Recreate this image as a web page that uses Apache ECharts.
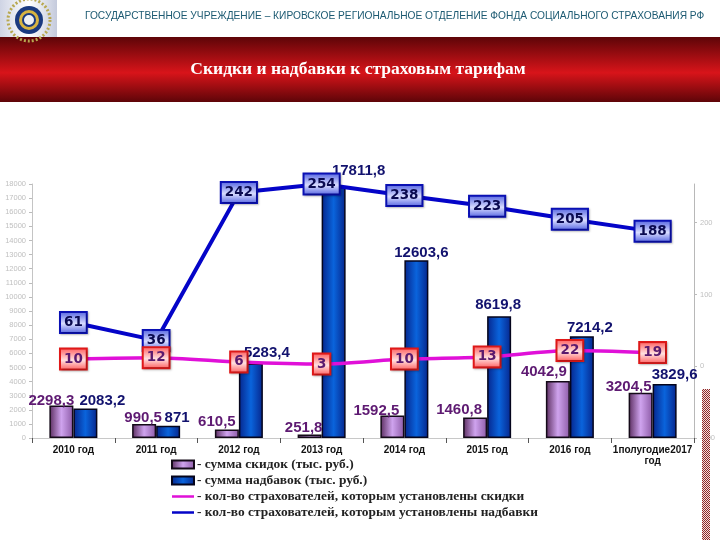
<!DOCTYPE html>
<html><head><meta charset="utf-8">
<style>html,body{margin:0;padding:0;background:#fff}#c{width:720px;height:540px}</style>
<script src="https://cdn.jsdelivr.net/npm/echarts@6/dist/echarts.min.js"></script>
</head><body><div id="c"></div>
<script>
const categories = ['2010 год','2011 год','2012 год','2013 год','2014 год','2015 год','2016 год','1полугодие2017\nгод'];
const discountSum = [2298.3, 990.5, 610.5, 251.8, 1592.5, 1460.8, 4042.9, 3204.5];
const surchargeSum = [2083.2, 871, 5283.4, 17811.8, 12603.6, 8619.8, 7214.2, 3829.6];
const discountCount = [10, 12, 6, 3, 10, 13, 22, 19];
const surchargeCount = [61, 36, 242, 254, 238, 223, 205, 188];
const rightTicks = [-100, 0, 100, 200];
const discountLabelShift = [[-10,3],[-1,1],[-10,0],[-6,1],[-16,3],[-16,0],[-14,-2],[-12,2]];
const surchargeLabelShift = [[17,1],[9,1],[16,-2],[25,-7],[5,1],[-1,-3],[8,0],[10,-1]];

const v = (a,b,c)=>({type:'linear',x:0,y:0,x2:0,y2:1,colorStops:[{offset:0,color:a},{offset:.55,color:b},{offset:1,color:c}]});
const h = (a,b,c)=>({type:'linear',x:0,y:0,x2:1,y2:0,colorStops:[{offset:0,color:a},{offset:.5,color:b},{offset:1,color:c}]});
const comma = p => String(p.value).replace('.',',');
const barLabel = shift => (val,i) => ({value:val,label:{offset:shift[i]}});
const lineIcon = 'path://M0,0L0.01,0Z M0,34H100V66H0Z M0,100L0.01,100Z';

const cv = document.createElement('canvas'); cv.width=2; cv.height=2;
const cx = cv.getContext('2d'); cx.fillStyle='#f4dede'; cx.fillRect(0,0,2,2); cx.fillStyle='#8e2a2a'; cx.fillRect(0,0,1,1); cx.fillRect(1,1,1,1);

const names = ['- сумма скидок (тыс. руб.)','- сумма надбавок (тыс. руб.)','- кол-во страхователей, которым установлены скидки','- кол-во страхователей, которым установлены надбавки'];
const chart = echarts.init(document.getElementById('c'),null,{renderer:'canvas'});
const boxLabel = (top,mid,bottom,border,text)=>({show:true,position:'inside',formatter:'{c}',fontFamily:'DejaVu Sans',fontWeight:'bold',fontSize:13.5,color:text,
  backgroundColor:v(top,mid,bottom),borderColor:border,borderWidth:2,padding:[3,3,2,3],shadowColor:'rgba(0,0,0,.25)',shadowBlur:2,shadowOffsetX:1,shadowOffsetY:1});
chart.setOption({
  animation:false,
  backgroundColor:'#fff',
  grid:{left:32,right:26,top:184,bottom:102,containLabel:false},
  legend:{orient:'vertical',left:171,top:458,padding:0,itemWidth:22,itemHeight:8,itemGap:3,symbolKeepAspect:false,
    data:[{name:names[0],icon:'rect'},{name:names[1],icon:'rect'},{name:names[2],icon:lineIcon},{name:names[3],icon:lineIcon}],
    textStyle:{fontFamily:'Liberation Serif',fontWeight:'bold',fontSize:13.4,color:'#222',padding:[0,0,0,-2]}},
  xAxis:{type:'category',data:categories,
    axisLine:{lineStyle:{color:'#c8c8c8'}},axisTick:{show:true,alignWithLabel:false,length:5,inside:false,lineStyle:{color:'#555'}},
    axisLabel:{interval:0,color:'#111',fontFamily:'Liberation Sans',fontWeight:'bold',fontSize:10,margin:7,lineHeight:11}},
  yAxis:[
    {type:'value',min:0,max:18000,interval:1000,splitLine:{show:false},
     axisLine:{show:true,lineStyle:{color:'#c4c4c4'}},axisTick:{show:true,length:3,lineStyle:{color:'#bbb'}},
     axisLabel:{color:'#c0c0c0',fontFamily:'Liberation Sans',fontSize:7.5,margin:6,formatter:val=>String(val)}},
    {type:'value',min:-100,max:254,position:'right',splitLine:{show:false},
     axisLine:{show:true,lineStyle:{color:'#b8b8b8'}},
     axisTick:{show:true,length:3,customValues:rightTicks,lineStyle:{color:'#bbb'}},
     axisLabel:{color:'#c0c0c0',fontFamily:'Liberation Sans',fontSize:7.5,margin:6,customValues:rightTicks,formatter:val=>String(val)}}
  ],
  series:[
    {name:names[0],type:'bar',barWidth:24,barGap:'0%',yAxisIndex:0,z:2,
     data:discountSum.map(barLabel(discountLabelShift)),
     itemStyle:{color:h('#5a2c5e','#cfa3ee','#8c5aa6'),borderColor:'#140a18',borderWidth:1.5},
     label:{show:true,position:'top',distance:0,formatter:comma,color:'#5e1a72',fontFamily:'Liberation Sans',fontWeight:'bold',fontSize:15}},
    {name:names[1],type:'bar',barWidth:24,yAxisIndex:0,z:2,
     data:surchargeSum.map(barLabel(surchargeLabelShift)),
     itemStyle:{color:h('#06258c','#0a64dc','#06258c'),borderColor:'#05051c',borderWidth:1.5},
     label:{show:true,position:'top',distance:1,formatter:comma,color:'#12126e',fontFamily:'Liberation Sans',fontWeight:'bold',fontSize:15}},
    {name:names[2],type:'line',yAxisIndex:1,data:discountCount,z:6,smooth:0.25,
     symbol:'rect',symbolSize:1,showSymbol:true,lineStyle:{color:'#e010d8',width:3.5},itemStyle:{color:'#e010d8'},
     label:boxLabel('#ff5a5a','#ffe0e0','#ff5a5a','#e01818','#5a1a6e')},
    {name:names[3],type:'line',yAxisIndex:1,data:surchargeCount,z:5,
     symbol:'rect',symbolSize:1,showSymbol:true,lineStyle:{color:'#0404c8',width:4},itemStyle:{color:'#0404c8'},
     label:boxLabel('#5060e0','#d8dcff','#5060e0','#0a10b4','#0a0a50')}
  ],
  graphic:[
    {type:'rect',shape:{x:0,y:37,width:720,height:65},z:100,style:{fill:v('#5e0508','#d8141a','#5e0508')},silent:true},
    {type:'text',x:358,y:69,z:101,style:{text:'Скидки и надбавки к страховым тарифам',fill:'#fff',font:'bold 17.5px "Liberation Serif"',align:'center',verticalAlign:'middle'}},
    {type:'text',x:85,y:16,z:101,style:{text:'ГОСУДАРСТВЕННОЕ УЧРЕЖДЕНИЕ – КИРОВСКОЕ РЕГИОНАЛЬНОЕ ОТДЕЛЕНИЕ ФОНДА СОЦИАЛЬНОГО СТРАХОВАНИЯ РФ',fill:'#1c5a72',font:'10.2px "Liberation Sans"',align:'left',verticalAlign:'middle'}},
    {type:'rect',shape:{x:0,y:0,width:57,height:37},z:100,style:{fill:h('#cfd4e4','#ffffff','#c4cadc')}},
    {type:'circle',shape:{cx:29,cy:20,r:21},z:101,style:{fill:'none',stroke:'#b8a850',lineWidth:3,lineDash:[2,2]}},
    {type:'circle',shape:{cx:29,cy:20,r:14},z:102,style:{fill:'#1a3a80'}},
    {type:'circle',shape:{cx:29,cy:20,r:10},z:103,style:{fill:'#d8b440'}},
    {type:'circle',shape:{cx:29,cy:20,r:6},z:104,style:{fill:'#eef0f4',stroke:'#1a3a80',lineWidth:2}},
    {type:'rect',shape:{x:702,y:389,width:8,height:151},z:100,style:{fill:{image:cv,repeat:'repeat'}}}
  ]
});
</script></body></html>
